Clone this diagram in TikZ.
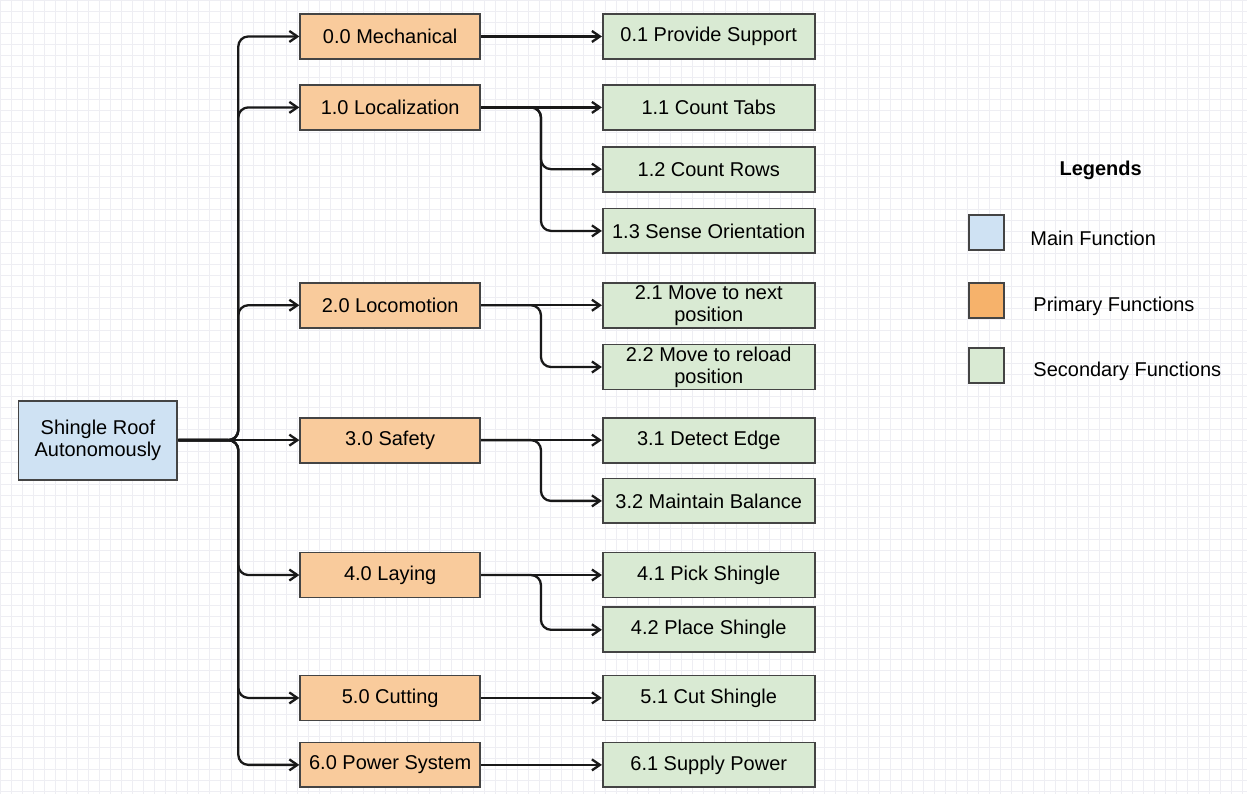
\documentclass[tikz,border=0pt]{standalone}
\usepackage{fontspec}
\setmainfont{Liberation Sans}
\usetikzlibrary{arrows.meta,positioning}
\definecolor{mainfill}{HTML}{CFE2F3}
\definecolor{primfill}{HTML}{F9CB9C}
\definecolor{primleg}{HTML}{F6B26B}
\definecolor{secfill}{HTML}{D9EAD3}
\definecolor{boxline}{HTML}{444444}
\definecolor{gridline}{HTML}{EEEEF3}
\tikzset{>={Straight Barb[length=4pt,width=5.5pt]}}

\begin{document}
\begin{tikzpicture}[x=0.5pt,y=-0.5pt,font=\fontsize{10}{11}\selectfont]
	\tikzset{box/.style={draw=boxline, line width=0.9pt, align=center, inner sep=0pt, minimum height=22.5pt},
		mainbox/.style={box, fill=mainfill, minimum width=79.5pt, minimum height=39.5pt},
		primbox/.style={box, fill=primfill, minimum width=90pt},
		secbox/.style={box, fill=secfill, minimum width=106pt},
		legbox/.style={draw=boxline, line width=0.9pt, minimum size=17.5pt, inner sep=0pt},
		legtext/.style={inner sep=0pt, yshift=-3pt},
		conn/.style={->, line width=1.15pt, draw=black!90, rounded corners=5pt},
	}
	% paper with grid
	\fill[white] (0,0) rectangle (1247,794);
	\draw[gridline, line width=0.5pt, step=5.5pt] (0,0) grid (1247,794);
	\useasboundingbox (0,0) rectangle (1247,794);
	% main function
	\node [mainbox] (main) at (97.5,440) {Shingle Roof\\Autonomously};
	\coordinate (trunk) at (238,440);
	% primary functions
	\node [primbox] (p0) at (390,36) {0.0 Mechanical};
	\node [primbox] (p1) at (390,107) {1.0 Localization};
	\node [primbox] (p2) at (390,305) {2.0 Locomotion};
	\node [primbox] (p3) at (390,440) {3.0 Safety};
	\node [primbox] (p4) at (390,575) {4.0 Laying};
	\node [primbox] (p5) at (390,698) {5.0 Cutting};
	\node [primbox] (p6) at (390,765) {6.0 Power System};
	% secondary functions
	\node [secbox, right = 60.5pt of p0] (s01) {0.1 Provide Support};
	\node [secbox, right = 60.5pt of p1] (s11) {1.1 Count Tabs};
	\node [secbox, below = 7.5pt of s11] (s12) {1.2 Count Rows};
	\node [secbox, below = 7.5pt of s12] (s13) {1.3 Sense Orientation};
	\node [secbox, right = 60.5pt of p2] (s21) {2.1 Move to next\\position};
	\node [secbox, below = 7.5pt of s21] (s22) {2.2 Move to reload\\position};
	\node [secbox, right = 60.5pt of p3] (s31) {3.1 Detect Edge};
	\node [secbox, below = 7pt of s31] (s32) {3.2 Maintain Balance};
	\node [secbox, right = 60.5pt of p4] (s41) {4.1 Pick Shingle};
	\node [secbox, below = 4pt of s41] (s42) {4.2 Place Shingle};
	\node [secbox, right = 60.5pt of p5] (s51) {5.1 Cut Shingle};
	\node [secbox, right = 60.5pt of p6] (s61) {6.1 Supply Power};
	% connectors
	\foreach \p in {p0,p1,p2,p4,p5,p6}
		\draw[conn] (main.east) -- (trunk) |- (\p.west);
	\draw[conn] (main.east) -- (p3.west);
	\draw[conn] (p0.east) -- (s01.west);
	\draw[conn] (p1.east) -- (s11.west);
	\foreach \s in {s12,s13}
		\draw[conn] (p1.east) -- ++(60,0) |- (\s.west);
	\draw[conn] (p2.east) -- (s21.west);
	\draw[conn] (p2.east) -- ++(60,0) |- (s22.west);
	\draw[conn] (p3.east) -- (s31.west);
	\draw[conn] (p3.east) -- ++(60,0) |- (s32.west);
	\draw[conn] (p4.east) -- (s41.west);
	\draw[conn] (p4.east) -- ++(60,0) |- (s42.west);
	\draw[conn] (p5.east) -- (s51.west);
	\draw[conn] (p6.east) -- (s61.west);
	% legend
	\node [font=\fontsize{10}{11}\selectfont\bfseries] (legtitle) at (1101,170) {Legends};
	\node [legbox, fill=mainfill] (lmain) at (987,232) {};
	\node [legbox, fill=primleg] (lprim) at (987,300) {};
	\node [legbox, fill=secfill] (lsec) at (987,365) {};
	\node [legtext, right = 12.5pt of lmain] (tmain) {Main Function};
	\node [legtext, right = 14pt of lprim] (tprim) {Primary Functions};
	\node [legtext, right = 14pt of lsec] (tsec) {Secondary Functions};
\end{tikzpicture}
\end{document}
